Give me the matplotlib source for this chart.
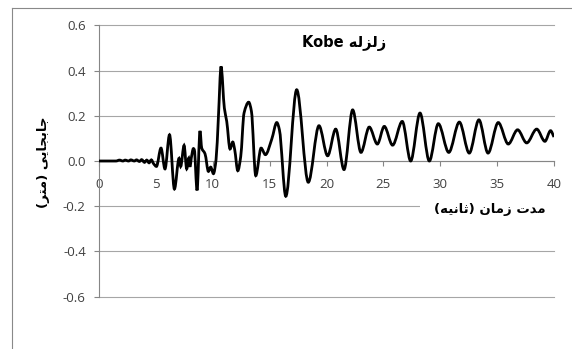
import re
import numpy as np
import matplotlib
matplotlib.use('Agg')
import matplotlib.pyplot as plt
from matplotlib.path import Path
from matplotlib.patches import PathPatch
from matplotlib.lines import Line2D

# Kobe displacement record, peaks and troughs of the trace
time_s = [0.0, 1.5, 1.8, 2.1, 2.3, 2.6, 2.8, 3.1, 3.3, 3.55, 3.75, 4.0, 4.2, 4.4,
          4.6, 4.8, 5.05, 5.45, 5.8, 6.2, 6.63, 7.04, 7.18, 7.48, 7.71, 7.89, 8.0,
          8.11, 8.3, 8.38, 8.62, 8.88, 9.03, 9.32, 9.62, 9.82, 10.06, 10.29, 10.5,
          10.73, 11.02, 11.23, 11.52, 11.76, 11.93, 12.2, 12.46, 12.75, 13.16, 13.4,
          13.78, 14.25, 14.63, 15.19, 15.63, 15.86, 16.42, 17.38, 18.4, 19.34, 20.1,
          20.81, 21.54, 22.3, 23.03, 23.76, 24.47, 25.08, 25.81, 26.66, 27.4, 28.22,
          29.04, 29.83, 30.75, 31.68, 32.55, 33.4, 34.2, 35.1, 35.98, 36.8, 37.6,
          38.48, 39.2, 39.7, 40.0]
disp_m = [0.0, 0.0, 0.004, 0.0, 0.004, 0.0, 0.005, 0.0, 0.005, -0.002, 0.006, -0.006,
          0.004, -0.008, 0.005, -0.012, -0.024, 0.057, -0.035, 0.116, -0.124, 0.012,
          -0.024, 0.069, -0.035, 0.013, -0.026, 0.012, 0.055, 0.05, -0.13, 0.133,
          0.057, 0.032, -0.046, -0.027, -0.056, 0.006, 0.197, 0.418, 0.234, 0.175,
          0.053, 0.084, 0.05, -0.043, 0.02, 0.212, 0.26, 0.22, -0.065, 0.057, 0.028,
          0.097, 0.17, 0.138, -0.156, 0.315, -0.094, 0.156, 0.023, 0.141, -0.038,
          0.226, 0.038, 0.15, 0.075, 0.153, 0.07, 0.175, 0.0, 0.212, 0.0, 0.165,
          0.038, 0.172, 0.035, 0.182, 0.035, 0.17, 0.075, 0.138, 0.08, 0.141, 0.087,
          0.134, 0.106]

x_ticks = [0, 5, 10, 15, 20, 25, 30, 35, 40]
y_ticks = [-0.6, -0.4, -0.2, 0.0, 0.2, 0.4, 0.6]

title_text = 'زلزله Kobe'
xlabel_text = 'مدت زمان (ثانیه)'
ylabel_text = 'جابجایی (متر)'

# contextual forms: isolated, final, initial, medial
FORMS = {
    'ا': ('\uFE8D', '\uFE8E', None, None),
    'ب': ('\uFE8F', '\uFE90', '\uFE91', '\uFE92'),
    'ت': ('\uFE95', '\uFE96', '\uFE97', '\uFE98'),
    'ث': ('\uFE99', '\uFE9A', '\uFE9B', '\uFE9C'),
    'ج': ('\uFE9D', '\uFE9E', '\uFE9F', '\uFEA0'),
    'د': ('\uFEA9', '\uFEAA', None, None),
    'ر': ('\uFEAD', '\uFEAE', None, None),
    'ز': ('\uFEAF', '\uFEB0', None, None),
    'ل': ('\uFEDD', '\uFEDE', '\uFEDF', '\uFEE0'),
    'م': ('\uFEE1', '\uFEE2', '\uFEE3', '\uFEE4'),
    'ن': ('\uFEE5', '\uFEE6', '\uFEE7', '\uFEE8'),
    'ه': ('\uFEE9', '\uFEEA', '\uFEEB', '\uFEEC'),
    'ی': ('\uFEEF', '\uFEF0', '\uFEF3', '\uFEF4'),
}


def joins_left(c):
    return c in FORMS and FORMS[c][2] is not None


def shape_rtl(s):
    # pick joined letter forms, then lay the line out right to left
    out = []
    for i, c in enumerate(s):
        if c not in FORMS:
            out.append(c)
            continue
        prev = s[i - 1] if i > 0 else ''
        nxt = s[i + 1] if i + 1 < len(s) else ''
        a = joins_left(prev)
        b = joins_left(c) and nxt in FORMS
        iso, fin, ini, med = FORMS[c]
        out.append(med if a and b else fin if a else ini if b else iso)
    shaped = ''.join(out)
    runs = re.findall(r'[A-Za-z0-9.]+|[^A-Za-z0-9.]+', shaped)
    vis = []
    for r in reversed(runs):
        if re.match(r'[A-Za-z0-9.]', r):
            vis.append(r)
        else:
            vis.append(r[::-1].translate(str.maketrans('()', ')(')))
    return ''.join(vis)


def smooth_path(x, y):
    # smoothed line as cubic Bezier segments (monotone tangents)
    x = np.asarray(x, float)
    y = np.asarray(y, float)
    h = np.diff(x)
    d = np.diff(y) / h
    m = np.zeros_like(y)
    for i in range(1, len(y) - 1):
        if d[i - 1] * d[i] > 0:
            m[i] = 2.0 / (1.0 / d[i - 1] + 1.0 / d[i])
    m[0], m[-1] = d[0], d[-1]
    verts = [(x[0], y[0])]
    codes = [Path.MOVETO]
    for i in range(len(x) - 1):
        verts += [(x[i] + h[i] / 3, y[i] + m[i] * h[i] / 3),
                  (x[i + 1] - h[i] / 3, y[i + 1] - m[i + 1] * h[i] / 3),
                  (x[i + 1], y[i + 1])]
        codes += [Path.CURVE4] * 3
    return Path(verts, codes)


W, H = 572, 349
fig = plt.figure(figsize=(W / 100, H / 100), dpi=100)
ax = fig.add_axes([99 / W, 1 - 296.7 / H, (554 - 99) / W, (296.7 - 25.3) / H])

ax.add_patch(PathPatch(smooth_path(time_s, disp_m), facecolor='none',
                       edgecolor='black', lw=2.0, zorder=3))

ax.set_xlim(0, 40)
ax.set_ylim(-0.6, 0.6)
ax.set_xticks(x_ticks)
ax.set_yticks(y_ticks)
ax.set_xticklabels([str(v) for v in x_ticks])
ax.set_yticklabels(['%.1f' % v for v in y_ticks])

ax.yaxis.grid(True, color='#a6a6a6', lw=0.8)
for gl in ax.get_ygridlines():
    gl.set_clip_on(False)
ax.set_axisbelow(True)
for side in ('top', 'right'):
    ax.spines[side].set_visible(False)
ax.spines['bottom'].set_position(('data', 0))
ax.spines['bottom'].set_color('#868686')
ax.spines['left'].set_color('#868686')
ax.spines['bottom'].set_linewidth(0.8)
ax.spines['left'].set_linewidth(0.8)
ax.tick_params(axis='both', direction='out', length=3.5, width=0.8,
               color='#868686', labelsize=9.5, labelcolor='#404040')
ax.tick_params(axis='x', pad=8.5)
ax.tick_params(axis='y', pad=6)
for lab in ax.get_xticklabels() + ax.get_yticklabels():
    lab.set_fontfamily('Open Sans')

fig.text(344 / W, 1 - 43 / H, shape_rtl(title_text), ha='center', va='center',
         fontsize=10.5, fontweight='bold', family=['DejaVu Sans'])
fig.text(490 / W, 1 - 210 / H, shape_rtl(xlabel_text), ha='center', va='center',
         fontsize=9.5, fontweight='bold', family=['DejaVu Sans'],
         bbox=dict(facecolor='white', edgecolor='none', pad=10))
fig.text(43 / W, 1 - 162 / H, shape_rtl(ylabel_text), ha='center', va='center',
         rotation=90, fontsize=9.5, fontweight='bold', family=['DejaVu Sans'])

# chart area border
fig.add_artist(Line2D([12 / W, 12 / W], [0, 1 - 8 / H], color='#898989', lw=0.8))
fig.add_artist(Line2D([12 / W, 1], [1 - 8 / H, 1 - 8 / H], color='#898989', lw=0.8))

fig.savefig('out.png', dpi=100)
